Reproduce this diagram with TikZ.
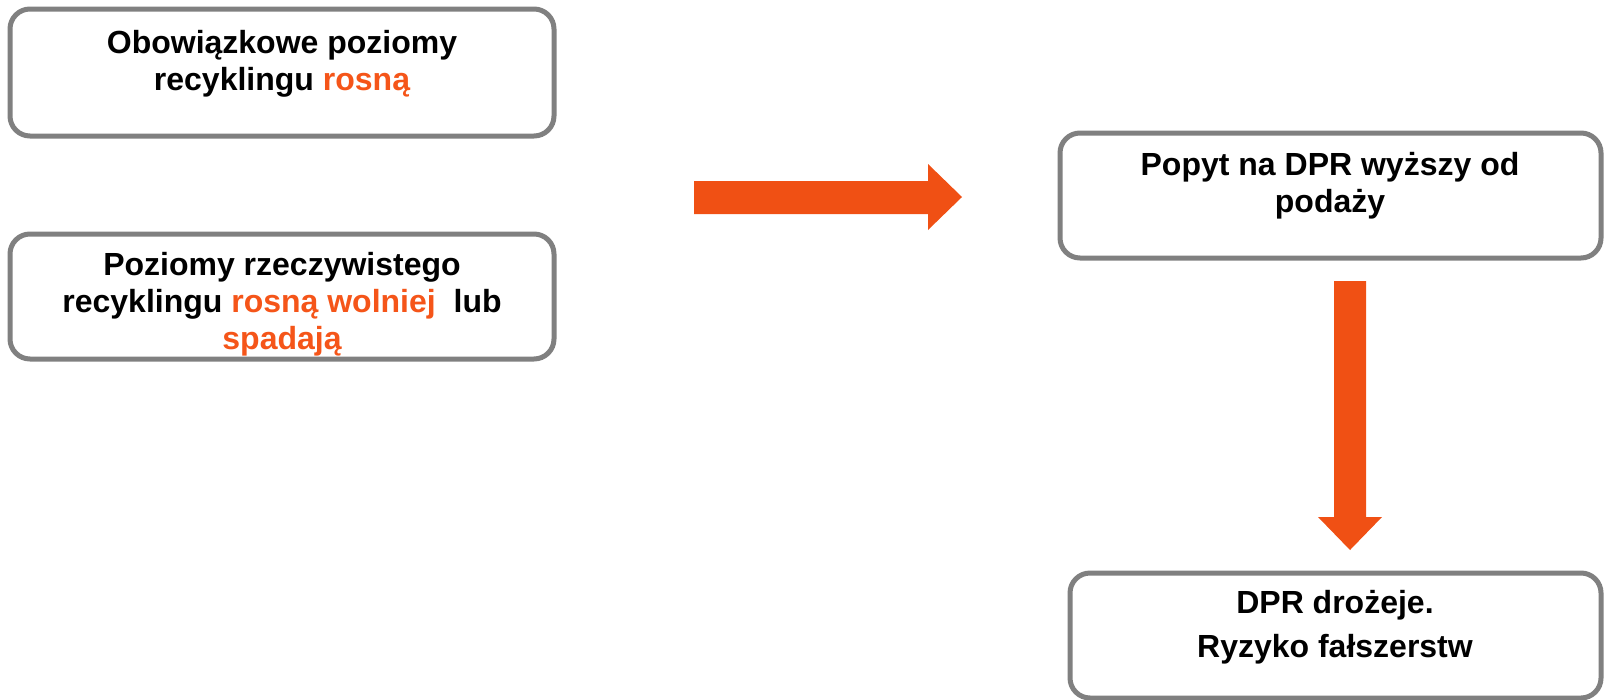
\documentclass[tikz,border=0pt]{standalone}
\usepackage{fontspec}
\setmainfont{Liberation Sans}
\definecolor{accent}{RGB}{240,80,20}
\definecolor{hl}{RGB}{245,85,25}
\definecolor{frame}{RGB}{128,128,128}
\begin{document}
\begin{tikzpicture}[x=1pt,y=-1pt,
  box/.style={draw=frame,line width=5pt,rounded corners=20pt,fill=white},
  txt/.style={align=center,inner sep=0pt,font=\fontsize{32}{37}\selectfont\bfseries,anchor=base},
  bigarrow/.style={fill=accent,draw=none}]
\useasboundingbox (0,0) rectangle (1605,699);
% boxes (text anchored at the baseline of its last line)
\draw[box] (10,9) rectangle (554,136);
\node[txt] (t1) at (282,90) {Obowiązkowe poziomy\\recyklingu \textcolor{hl}{rosną}};
\draw[box] (10,234) rectangle (554,359);
\node[txt] (t2) at (282,349) {Poziomy rzeczywistego\\recyklingu \textcolor{hl}{rosną wolniej}\ \ lub\\\textcolor{hl}{spadają}};
\draw[box] (1060,133) rectangle (1601,258);
\node[txt] (t3) at (1330,212) {Popyt na DPR wyższy od\\podaży};
\draw[box] (1070,573) rectangle (1601,698);
\node[txt] (t4) at (1335,657) {DPR drożeje.\\[7pt]Ryzyko fałszerstw};
% arrows
\fill[bigarrow] (694,181) -- (928,181) -- (928,164) -- (962,197) -- (928,230) -- (928,214) -- (694,214) -- cycle;
\fill[bigarrow] (1334,281) -- (1366,281) -- (1366,517) -- (1382,517) -- (1350,550) -- (1318,517) -- (1334,517) -- cycle;
\end{tikzpicture}
\end{document}
